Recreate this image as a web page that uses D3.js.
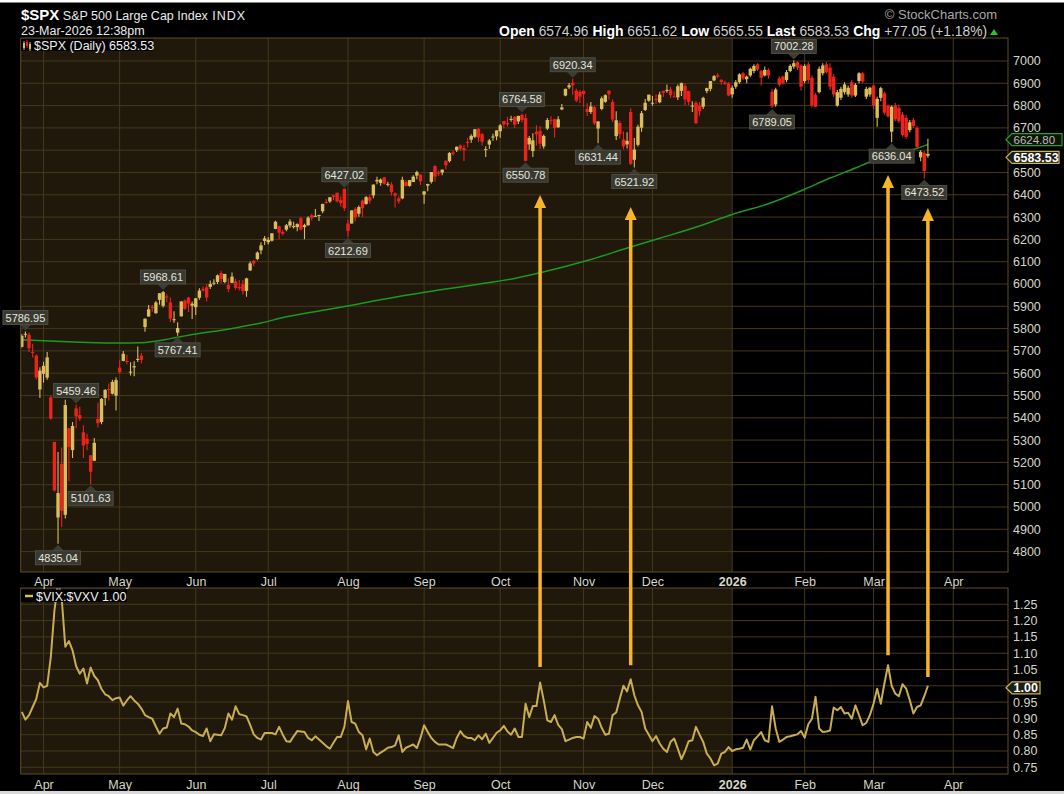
<!DOCTYPE html>
<html><head><meta charset="utf-8">
<script src="https://cdn.jsdelivr.net/npm/d3@7"></script>
<style>html,body{margin:0;padding:0;background:#000;overflow:hidden}svg{display:block}</style>
</head><body><svg id="c" width="1064" height="794"></svg>
<script>
// ---------- DATA ----------
const tradingDays = {
 "2025-03":[24,25,26,27,28,31],
 "2025-04":[1,2,3,4,7,8,9,10,11,14,15,16,17,21,22,23,24,25,28,29,30],
 "2025-05":[1,2,5,6,7,8,9,12,13,14,15,16,19,20,21,22,23,27,28,29,30],
 "2025-06":[2,3,4,5,6,9,10,11,12,13,16,17,18,20,23,24,25,26,27,30],
 "2025-07":[1,2,3,7,8,9,10,11,14,15,16,17,18,21,22,23,24,25,28,29,30,31],
 "2025-08":[1,4,5,6,7,8,11,12,13,14,15,18,19,20,21,22,25,26,27,28,29],
 "2025-09":[2,3,4,5,8,9,10,11,12,15,16,17,18,19,22,23,24,25,26,29,30],
 "2025-10":[1,2,3,6,7,8,9,10,13,14,15,16,17,20,21,22,23,24,27,28,29,30,31],
 "2025-11":[3,4,5,6,7,10,11,12,13,14,17,18,19,20,21,24,25,26,28],
 "2025-12":[1,2,3,4,5,8,9,10,11,12,15,16,17,18,19,22,23,24,26,29,30,31],
 "2026-01":[2,5,6,7,8,9,12,13,14,15,16,20,21,22,23,26,27,28,29,30],
 "2026-02":[2,3,4,5,6,9,10,11,12,13,17,18,19,20,23,24,25,26,27],
 "2026-03":[2,3,4,5,6,9,10,11,12,13,16,17,18,19,20,23,24,25,26,27,30,31],
 "2026-04":[1,2,6,7,8,9,10,13,14,15,16,17,20,21,22,23,24,27,28,29,30]
};
const openP = [
 5718,5775,5772,5695,5679,5527,
 5597,5580,5492,5292,4953,5193,4965,5353,5255,5442,5412,5335,5306,5232,5207,5395,5381,5489,5529,5508,5499,
 5625,5655,5655,5605,5626,5663,5679,5807,5854,5896,5869,5929,5902,5944,5917,5841,5782,5855,5926,5939,5903,
 5896,5938,5978,5985,5987,6004,6009,6049,6009,5996,6005,6012,5987,5999,5969,6061,6104,6112,6151,6193,
 6187,6194,6247,6259,6233,6244,6262,6255,6255,6295,6255,6263,6308,6304,6307,6326,6368,6370,6397,6409,6376,6427,
 6271,6271,6337,6315,6374,6359,6389,6397,6460,6453,6478,6445,6446,6407,6384,6384,6457,6440,6457,6486,6491,
 6401,6441,6458,6529,6499,6500,6552,6551,6590,6600,6621,6609,6637,6647,6660,6696,6672,6601,6625,6661,6662,
 6685,6731,6722,6740,6749,6729,6758,6744,6626,6596,6683,6686,6617,6697,6736,6739,6703,6783,6845,6882,6903,6867,6862,
 6866,6785,6771,6793,6697,6785,6817,6867,6816,6663,6722,6648,6626,6771,6557,6624,6701,6780,6822,
 6812,6830,6815,6866,6866,6872,6841,6837,6866,6888,6865,6800,6813,6800,6795,6865,6875,6913,6936,6914,6904,6900,
 6850,6885,6905,6945,6918,6935,6955,6985,6955,6935,6960,6862,6805,6922,6930,6915,6955,6975,6995,6980,
 6910,6985,6925,6848,6860,6945,6985,6970,6930,6800,6835,6860,6850,6905,6845,6910,6945,6840,6850,
 6890,6745,6835,6855,6800,6683,6800,6790,6760,6745,6690,6735,6700,6568,6588,6574.96
];
const highP = [
 5775,5786.95,5783,5732,5685,5627,
 5651,5695,5499,5292,5246.57,5267,5481,5353,5381,5459.46,5450,5367,5328,5232,5309,5469,5489,5528,5554,5571,5581,
 5658,5700,5683,5649,5654,5720,5691,5845,5906,5906,5924,5958,5968.61,5954,5939,5878,5829,5924,5931,5943,5922,
 5937,5981,5990,5999,6016,6021,6043,6059,6045,6026,6051,6024,6018,6018,6028,6101,6108,6146,6187,6215,
 6210,6228,6284,6262,6242,6269,6290,6279,6272,6302,6270,6304,6315,6336,6310,6360,6381,6390,6401,6410,6393,6427.02,
 6288,6330,6344,6352,6379,6395,6401,6446,6481,6473,6481,6458,6456,6410,6394,6481,6466,6466,6488,6508,6492,
 6416,6449,6502,6533,6508,6513,6555,6592,6600,6616,6626,6624,6656,6671,6695,6699,6677,6618,6650,6674,6689,
 6718,6731,6750,6754,6753,6754,6764.58,6762,6664,6676,6712,6708,6670,6744,6752,6741,6752,6807,6876,6901,6920.34,6875,6870,
 6867,6811,6816,6798,6730,6841,6851,6869,6827,6775,6732,6685,6680,6788,6655,6714,6776,6829,6849,
 6843,6851,6862,6867,6895,6885,6864,6895,6904,6899,6866,6819,6820,6816,6840,6880,6910,6937,6945,6919,6911,6905,
 6890,6915,6945,6952,6935,6970,6985,6990,6960,6975,6968,6875,6880,6930,6935,6960,6985,7002.28,6999,6985,
 6985,6995,6935,6855,6975,6990,6995,6990,6940,6870,6885,6905,6890,6915,6900,6950,6952,6885,6885,
 6895,6840,6885,6862,6805,6800,6812,6805,6770,6758,6735,6745,6708,6600,6598,6651.62
];
const lowP = [
 5715,5760,5695,5670,5572,5488.73,
 5558,5571,5390,5069.90,4835.04,4910,4948,5115,5220,5353,5386,5220,5255,5101.63,5207,5356,5371,5455,5478,5505,5433,
 5597,5654,5640,5590,5586,5650,5644,5786,5854,5876,5867,5907,5895,5918,5830,5826,5767.41,5854,5884,5874,5843,
 5861,5929,5966,5921,5978,5994,6000,6002,6003,5963,6004,5974,5971,5952,5943,6058,6080,6107,6133,6175,
 6177,6191,6245,6201,6217,6237,6252,6249,6236,6241,6201,6262,6285,6303,6282,6317,6360,6363,6375,6365,6346,6327,
 6212.69,6271,6281,6301,6300,6355,6360,6385,6447,6441,6445,6437,6397,6343,6360,6380,6437,6436,6457,6470,6444,
 6360,6416,6451,6460,6484,6488,6515,6545,6575,6592,6598,6551,6613,6633,6655,6637,6621,6569,6605,6642,6645,
 6656,6697,6705,6727,6699,6718,6724,6550.78,6602,6570,6620,6605,6607,6691,6715,6657,6700,6779,6842,6874,6849,6815,6810,
 6795,6753,6762,6713,6631.44,6779,6813,6826,6726,6646,6652,6604,6608,6533,6521.92,6617,6683,6776,6817,
 6799,6808,6810,6839,6858,6834,6838,6825,6843,6801,6801,6771,6718,6754,6785,6855,6864,6909,6924,6894,6893,6842,
 6835,6875,6898,6915,6900,6928,6945,6955,6890,6930,6920,6789.05,6795,6885,6895,6905,6950,6965,6960,6868,
 6900,6900,6792,6793,6855,6935,6945,6870,6840,6795,6825,6850,6840,6835,6838,6900,6900,6830,6840,
 6785,6705,6820,6760,6745,6636.04,6730,6722,6660,6650,6680,6700,6610,6550,6473.52,6565.55
];
const closeP = [
 5767.57,5776.65,5712.20,5693.31,5580.94,5611.85,
 5633.07,5670.97,5396.52,5074.08,5062.25,4982.77,5456.90,5268.05,5363.36,5405.97,5396.63,5275.70,5282.70,5158.20,5287.76,5375.86,5484.77,5525.21,5528.75,5560.83,5569.06,
 5604.14,5686.67,5650.38,5606.91,5631.28,5663.94,5659.91,5844.19,5886.55,5892.58,5916.93,5958.38,5963.60,5940.46,5844.61,5842.01,5802.82,5921.54,5888.55,5912.17,5911.69,
 5935.94,5970.37,5970.81,5939.30,6000.36,6005.88,6038.81,6022.24,6045.26,5976.97,6033.11,5982.72,5980.87,5967.84,6025.17,6092.18,6092.16,6141.02,6173.07,6204.95,
 6198.01,6227.42,6279.35,6229.98,6225.52,6263.26,6280.46,6259.75,6268.56,6243.76,6263.70,6297.36,6296.79,6305.60,6309.62,6358.91,6363.35,6388.64,6389.77,6370.86,6362.90,6339.39,
 6238.01,6329.94,6299.19,6345.06,6340.00,6389.45,6373.45,6445.76,6466.58,6468.54,6449.80,6449.15,6411.37,6395.78,6370.17,6466.91,6439.32,6465.94,6481.40,6501.86,6460.26,
 6415.54,6448.26,6502.08,6481.50,6495.15,6512.61,6532.04,6587.47,6584.29,6615.28,6606.76,6600.35,6631.96,6664.36,6693.75,6656.92,6637.97,6604.72,6643.70,6661.21,6688.46,
 6711.20,6715.35,6715.79,6740.28,6714.59,6753.72,6735.11,6552.51,6654.72,6644.31,6671.06,6629.07,6664.01,6735.13,6735.35,6699.40,6738.44,6791.69,6875.16,6890.89,6890.59,6822.34,6840.20,
 6851.97,6771.55,6796.29,6720.32,6728.80,6832.43,6846.61,6850.92,6737.49,6734.11,6672.41,6617.32,6642.16,6538.76,6602.99,6705.12,6765.88,6812.61,6849.09,
 6812.63,6829.37,6849.72,6857.12,6870.40,6846.51,6840.51,6886.68,6901.00,6827.41,6816.51,6800.26,6721.43,6774.76,6834.50,6878.49,6909.79,6932.05,6929.94,6905.74,6896.24,6845.50,
 6880,6905,6940,6922,6930,6965,6978,6962,6925,6960,6935,6797,6872,6893,6900,6950,6978,6990,6970,6885,
 6978,6915,6800,6795,6965,6980,6950,6885,6850,6860,6875,6895,6880,6845,6893,6945,6908,6875,6880,
 6800,6830,6878,6768,6752,6795,6738,6730,6668,6660,6725,6708,6614,6593,6506.48,6583.53
];
const ratioVals = [
 0.92,0.896,0.91,0.935,0.96,1.009,0.995,1.0,1.088,1.23,
 1.32,1.27,1.12,1.137,1.109,1.06,1.037,1.053,1.007,1.056,
 1.03,1.017,0.99,0.974,0.968,0.956,0.962,0.964,0.939,0.955,
 0.968,0.955,0.945,0.93,0.91,0.904,0.899,0.875,0.853,0.869,
 0.872,0.915,0.904,0.93,0.884,0.882,0.875,0.863,0.858,0.85,
 0.846,0.869,0.83,0.851,0.85,0.848,0.87,0.915,0.896,0.937,
 0.913,0.91,0.906,0.88,0.851,0.84,0.835,0.855,0.855,0.855,
 0.851,0.874,0.85,0.83,0.828,0.845,0.861,0.86,0.858,0.84,
 0.833,0.845,0.835,0.825,0.815,0.807,0.825,0.843,0.843,0.874,
 0.953,0.889,0.884,0.858,0.848,0.805,0.838,0.797,0.787,0.795,
 0.802,0.81,0.812,0.817,0.848,0.797,0.81,0.815,0.82,0.809,
 0.84,0.879,0.858,0.84,0.828,0.82,0.82,0.82,0.815,0.809,
 0.84,0.861,0.846,0.84,0.84,0.833,0.848,0.836,0.853,0.825,
 0.84,0.856,0.863,0.877,0.86,0.85,0.869,0.843,0.843,0.945,
 0.904,0.938,0.938,1.01,0.956,0.894,0.889,0.91,0.88,0.867,
 0.83,0.835,0.84,0.843,0.843,0.838,0.889,0.871,0.907,0.899,
 0.871,0.85,0.853,0.91,0.918,0.96,1.0,0.983,1.02,0.971,
 0.94,0.92,0.869,0.85,0.83,0.846,0.823,0.807,0.797,0.828,
 0.838,0.807,0.775,0.8,0.83,0.833,0.874,0.85,0.828,0.792,
 0.777,0.756,0.761,0.792,0.797,0.812,0.8,0.805,0.807,0.81,
 0.835,0.804,0.833,0.845,0.858,0.833,0.828,0.937,0.869,0.828,
 0.835,0.843,0.845,0.848,0.851,0.861,0.841,0.882,0.899,0.966,
 0.869,0.858,0.86,0.863,0.933,0.925,0.935,0.915,0.917,0.899,
 0.94,0.91,0.879,0.886,0.91,0.945,0.991,0.945,1.007,1.063,
 1.0,0.976,0.968,1.005,0.991,0.956,0.915,0.935,0.94,0.968,1.0
];
const maDates = ["2025-03-24","2025-04-01","2025-04-15","2025-04-30","2025-05-09","2025-05-21","2025-05-29","2025-06-12","2025-06-27","2025-07-09","2025-07-28","2025-08-11","2025-08-25","2025-09-09","2025-09-23","2025-10-07","2025-10-16","2025-11-04","2025-11-20","2025-12-03","2025-12-18","2026-01-02","2026-01-16","2026-02-02","2026-02-11","2026-02-23","2026-02-27","2026-03-09","2026-03-17","2026-03-23"];
const maVals = [5750,5745,5739,5735,5737,5755,5770,5795,5825,5853,5890,5920,5950,5975,5999,6025,6050,6105,6166,6205,6260,6312,6360,6425,6475,6520,6547,6578,6603,6624.80];
const priceTicks = [4800,4900,5000,5100,5200,5300,5400,5500,5600,5700,5800,5900,6000,6100,6200,6300,6400,6500,6600,6700,6800,6900,7000];
const ratioTicks = [0.75,0.80,0.85,0.90,0.95,1.00,1.05,1.10,1.15,1.20,1.25];
const monthTickDates = ["2025-04-01","2025-05-01","2025-06-02","2025-07-01","2025-08-01","2025-09-02","2025-10-01","2025-11-03","2025-12-01","2026-01-02","2026-02-02","2026-03-02","2026-04-01"];
const monthLabels = ["Apr","May","Jun","Jul","Aug","Sep","Oct","Nov","Dec","2026","Feb","Mar","Apr"];
const calloutDates = ["2025-03-25","2025-04-07","2025-04-14","2025-04-21","2025-05-19","2025-05-23","2025-07-31","2025-08-01","2025-10-09","2025-10-10","2025-10-29","2025-11-07","2025-11-21","2026-01-20","2026-01-28","2026-03-09","2026-03-20"];
const calloutValues = [5786.95,4835.04,5459.46,5101.63,5968.61,5767.41,6427.02,6212.69,6764.58,6550.78,6920.34,6631.44,6521.92,6789.05,7002.28,6636.04,6473.52];
const calloutKinds = ["high","low","high","low","high","low","high","low","high","low","high","low","low","low","high","low","low"];
const arrowDates = ["2025-10-16","2025-11-20","2026-03-06","2026-03-23"];
const arrowTopPrice = [6399,6345,6489,6341];
const arrowBottomRatio = [1.058,1.063,1.094,1.027];
const headerQuote = [["Open","6574.96"],["High","6651.62"],["Low","6565.55"],["Last","6583.53"],["Chg","+77.05 (+1.18%)"]];
const lastClose = 6583.53, lastMA = 6624.80, lastRatio = 1.00;

// ---------- SETUP ----------
const FONT = "'Liberation Sans', Arial, Helvetica, sans-serif";
const sessions = Object.entries(tradingDays).flatMap(([m, ds]) => ds.map(d => m + "-" + String(d).padStart(2, "0")));
const idxOf = d => sessions.indexOf(d);
const svg = d3.select("#c");
const W = 1064, H = 794, L = 20.7, R = 1008;
const P1 = {top: 38, bottom: 572}, P2 = {top: 588, bottom: 774};
const x = d3.scaleLinear().domain([-0.3, 272.1]).range([L, R]);
const yP = d3.scaleLinear().domain([4708.5, 7103.1]).range([P1.bottom, P1.top]);
const yR = d3.scaleLinear().domain([0.7294, 1.30]).range([P2.bottom, P2.top]);
const xYear = x(idxOf("2026-01-02"));
const GRID = "#45391c", BORDER = "#5e4c26", BROWN = "#1f180b";

svg.append("rect").attr("width", W).attr("height", H).attr("fill", "#000");
svg.append("rect").attr("width", W).attr("height", 2.5).attr("fill", "#fff");
svg.append("rect").attr("y", 791).attr("width", W).attr("height", 3).attr("fill", "#d9d9d9");

const defs = svg.append("defs");
defs.append("clipPath").attr("id", "clip1").append("rect").attr("x", L).attr("y", P1.top).attr("width", R - L).attr("height", P1.bottom - P1.top);
defs.append("clipPath").attr("id", "clip2").append("rect").attr("x", L).attr("y", P2.top).attr("width", R - L).attr("height", P2.bottom - P2.top);

const monthIdx = monthTickDates.map(idxOf);
[P1, P2].forEach((P, k) => {
  const g = svg.append("g");
  g.append("rect").attr("x", L).attr("y", P.top).attr("width", xYear - L).attr("height", P.bottom - P.top).attr("fill", BROWN);
  g.selectAll("line.v").data(monthIdx).join("line")
    .attr("x1", d => x(d)).attr("x2", d => x(d)).attr("y1", P.top).attr("y2", P.bottom)
    .attr("stroke", GRID).attr("stroke-width", 1);
  const ys = k === 0 ? priceTicks.map(yP) : ratioTicks.map(yR);
  g.selectAll("line.h").data(ys).join("line")
    .attr("x1", L).attr("x2", R).attr("y1", d => d).attr("y2", d => d)
    .attr("stroke", GRID).attr("stroke-width", 1);
});

// MA line
const maPts = maDates.map((d, i) => [idxOf(d), maVals[i]]);
svg.append("path").attr("clip-path", "url(#clip1)").datum(maPts)
  .attr("d", d3.line().x(d => x(d[0])).y(d => yP(d[1])).curve(d3.curveMonotoneX))
  .attr("fill", "none").attr("stroke", "#1d9a1d").attr("stroke-width", 1.5);

// Candles
const bars = closeP.map((c, i) => ({i, o: openP[i], h: highP[i], l: lowP[i], c}));
const lastI = bars.length - 1;
const col = d => d.i === lastI ? "#cfc83e" : (d.c >= d.o ? "#dbbd5c" : "#ec231c");
const gC = svg.append("g").attr("clip-path", "url(#clip1)");
gC.selectAll("line").data(bars).join("line")
  .attr("x1", d => x(d.i)).attr("x2", d => x(d.i)).attr("y1", d => yP(d.h)).attr("y2", d => yP(d.l))
  .attr("stroke", col).attr("stroke-width", 1.1);
gC.selectAll("rect").data(bars).join("rect")
  .attr("x", d => x(d.i) - 1.7).attr("width", 3.4)
  .attr("y", d => yP(Math.max(d.o, d.c)))
  .attr("height", d => Math.max(1, Math.abs(yP(d.o) - yP(d.c))))
  .attr("fill", col);

// Ratio line
svg.append("path").attr("clip-path", "url(#clip2)").datum(ratioVals)
  .attr("d", d3.line().x((d, i) => x(i)).y(d => yR(d)))
  .attr("fill", "none").attr("stroke", "#c9ae4f").attr("stroke-width", 2).attr("stroke-linejoin", "round");

// Borders
[P1, P2].forEach(P => svg.append("rect").attr("x", L).attr("y", P.top).attr("width", R - L).attr("height", P.bottom - P.top)
  .attr("fill", "none").attr("stroke", BORDER).attr("stroke-width", 1));

// Value tag positions (the axis labels they cover are hidden, as in the original)
const tagMAy = yP(lastMA) - 5, tagCloseY = yP(lastClose) + 3.5, tagRatioY = yR(lastRatio) + 2;

// Axes
function styleAxis(g) {
  g.select(".domain").remove();
  g.attr("font-family", FONT).attr("font-size", 12.5);
  g.selectAll("text").attr("fill", "#d6d6c8");
}
const visiblePriceTicks = priceTicks.filter(v => Math.abs(yP(v) - tagMAy) > 9 && Math.abs(yP(v) - tagCloseY) > 9);
const visibleRatioTicks = ratioTicks.filter(v => Math.abs(yR(v) - tagRatioY) > 9);
svg.append("g").attr("transform", `translate(${R},0)`)
  .call(d3.axisRight(yP).tickValues(visiblePriceTicks).tickSize(0).tickPadding(5).tickFormat(d3.format("d"))).call(styleAxis);
svg.append("g").attr("transform", `translate(${R},0)`)
  .call(d3.axisRight(yR).tickValues(visibleRatioTicks).tickSize(0).tickPadding(5).tickFormat(d3.format(".2f"))).call(styleAxis);
[P1.bottom + 1, P2.bottom + 2].forEach(yy => {
  const g = svg.append("g").attr("transform", `translate(0,${yy})`)
    .call(d3.axisBottom(x).tickValues(monthIdx).tickSize(0).tickPadding(4).tickFormat((d, i) => monthLabels[i])).call(styleAxis);
  g.selectAll("text").filter(function () { return this.textContent === "2026"; }).attr("font-weight", "bold");
});

// Callouts
const gL = svg.append("g").attr("font-family", FONT).attr("font-size", 11);
calloutDates.forEach((d, k) => {
  const cx = x(idxOf(d)), py = yP(calloutValues[k]), hi = calloutKinds[k] === "high";
  const bw = 45, bh = 14;
  const by = hi ? py - 7 - bh : py + 7;
  const tri = hi ? [[cx - 6, by + bh], [cx + 6, by + bh], [cx, py - 1]] : [[cx - 6, by], [cx + 6, by], [cx, py + 1]];
  gL.append("path").attr("d", "M" + tri.join("L") + "Z").attr("fill", "#3c3c35");
  gL.append("rect").attr("x", cx - bw / 2).attr("y", by).attr("width", bw).attr("height", bh)
    .attr("fill", "#393932").attr("stroke", "#55554b").attr("stroke-width", 0.8);
  gL.append("text").attr("x", cx).attr("y", by + bh / 2 + 4).attr("text-anchor", "middle").attr("fill", "#e6e6dc")
    .text(d3.format(".2f")(calloutValues[k]));
});

// Legends
const lg1 = svg.append("g").attr("font-family", FONT);
lg1.append("rect").attr("x", 21).attr("y", 39).attr("width", 132).attr("height", 12).attr("fill", "#000");
[[24, "#d9bc5e", 42, 49], [27, "#e8221c", 41, 47], [30, "#d9bc5e", 43, 50]].forEach(c => {
  lg1.append("line").attr("x1", c[0]).attr("x2", c[0]).attr("y1", c[2] - 1).attr("y2", c[3] + 1).attr("stroke", c[1]);
  lg1.append("rect").attr("x", c[0] - 1).attr("y", c[2] + 1).attr("width", 2).attr("height", c[3] - c[2] - 2).attr("fill", c[1]);
});
lg1.append("text").attr("x", 34).attr("y", 50).attr("font-size", 12.5).attr("fill", "#f0f0f0").text("$SPX (Daily) " + d3.format(".2f")(lastClose));
const lg2 = svg.append("g").attr("font-family", FONT);
lg2.append("rect").attr("x", 21).attr("y", 589.5).attr("width", 106).attr("height", 12.5).attr("fill", "#000");
lg2.append("line").attr("x1", 25).attr("x2", 33).attr("y1", 596).attr("y2", 596).attr("stroke", "#d9bc5e").attr("stroke-width", 2.5);
lg2.append("text").attr("x", 36).attr("y", 600.5).attr("font-size", 12.5).attr("fill", "#f0f0f0").text("$VIX:$VXV " + d3.format(".2f")(lastRatio));

// Right-hand value tags
function tag(yc, txt, stroke, fill, txtCol, bold, w, fs) {
  const g = svg.append("g").attr("font-family", FONT);
  const x0 = 1006, x1 = 1012, h = 12;
  g.append("path").attr("d", `M${x0},${yc}L${x1},${yc - h / 2}L${x1 + w},${yc - h / 2}L${x1 + w},${yc + h / 2}L${x1},${yc + h / 2}Z`)
    .attr("fill", fill).attr("stroke", stroke).attr("stroke-width", 1.2);
  g.append("text").attr("x", x1 + 1.5).attr("y", yc + 4.2).attr("font-size", fs).attr("font-weight", bold ? "bold" : "normal")
    .attr("fill", txtCol).text(txt);
}
tag(tagMAy, d3.format(".2f")(lastMA), "#2aa02a", "#0c140c", "#bdbdb5", false, 50, 11.5);
tag(tagCloseY, d3.format(".2f")(lastClose), "#c8b456", "#1e1e18", "#ffffff", true, 47, 12.5);
tag(tagRatioY, d3.format(".2f")(lastRatio), "#c8b456", "#1e1e18", "#ffffff", true, 28, 12.5);

// Arrows
const gA = svg.append("g");
arrowDates.forEach((d, k) => {
  const ax = x(idxOf(d)), tip = yP(arrowTopPrice[k]), bot = yR(arrowBottomRatio[k]);
  gA.append("line").attr("x1", ax).attr("x2", ax).attr("y1", bot).attr("y2", tip + 10)
    .attr("stroke", "#f6b42a").attr("stroke-width", 3.5);
  gA.append("path").attr("d", `M${ax - 6},${tip + 13}L${ax + 6},${tip + 13}L${ax},${tip}Z`).attr("fill", "#f6b42a");
});

// Header
const hd = svg.append("g").attr("font-family", FONT);
const t1 = hd.append("text").attr("x", 21).attr("y", 20).attr("fill", "#eaeaea");
t1.append("tspan").attr("font-weight", "bold").attr("font-size", 15).attr("fill", "#fff").text("$SPX");
t1.append("tspan").attr("font-size", 12.5).text(" S&P 500 Large Cap Index");
t1.append("tspan").attr("font-size", 12.5).attr("letter-spacing", 1).text(" INDX");
hd.append("text").attr("x", 21).attr("y", 35).attr("font-size", 12.5).attr("fill", "#eaeaea").text("23-Mar-2026 12:38pm");
hd.append("text").attr("x", 997).attr("y", 19).attr("text-anchor", "end").attr("font-size", 13).attr("fill", "#a9a9a9").text("\u00A9 StockCharts.com");
const t2 = hd.append("text").attr("x", 987).attr("y", 36).attr("text-anchor", "end");
headerQuote.forEach((q, k) => {
  t2.append("tspan").attr("font-weight", "bold").attr("font-size", 14).attr("fill", "#ffffff").text((k ? "  " : "") + q[0]);
  t2.append("tspan").attr("font-size", 13.8).attr("fill", "#cfcfcf").text(" " + q[1]);
});
hd.append("path").attr("d", "M990,35L998,35L994,29Z").attr("fill", "#2fbf2f");
</script>
</body></html>
